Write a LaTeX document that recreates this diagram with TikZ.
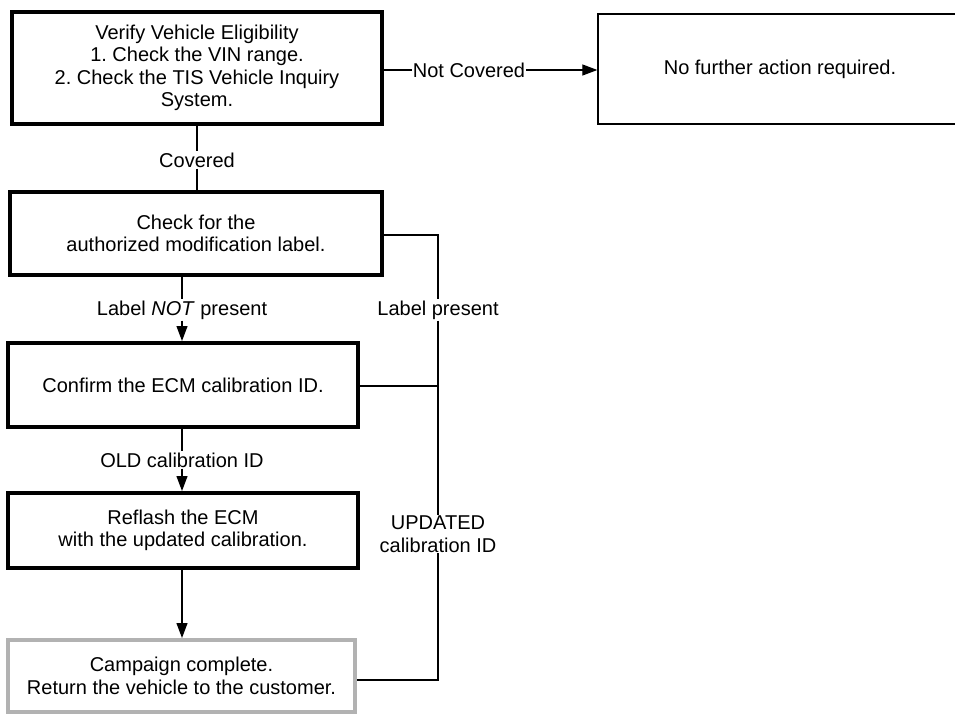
\documentclass[tikz,border=0pt]{standalone}
\usepackage{fontspec}
\setmainfont{Liberation Sans}
\usetikzlibrary{arrows.meta}
\begin{document}
\begin{tikzpicture}[x=1pt,y=-1pt,
  every node/.style={font=\fontsize{20}{22.5}\selectfont, align=center, inner sep=0pt},
  thickbox/.style={draw, line width=4pt, minimum width=#1},
  thinbox/.style={draw, line width=1.3pt},
  grbox/.style={draw=gray!60, line width=4pt},
  conn/.style={line width=1.2pt},
  arr/.style={conn, -{Triangle[length=15pt,width=11pt]}},
  lab/.style={fill=white, inner sep=1pt}]
\useasboundingbox (0,0) rectangle (955,714);
\node[thickbox=370pt, minimum height=112pt] (verify) at (197,68)
  {Verify Vehicle Eligibility\\1.\ Check the VIN range.\\2.\ Check the TIS Vehicle Inquiry\\System.};
\node[thinbox, minimum width=364pt, minimum height=110pt] (nfa) at (780,69) {No further action required.};
\node[thickbox=372pt, minimum height=83pt] (check) at (196,233.5) {Check for the\\authorized modification label.};
\node[thickbox=350pt, minimum height=84pt] (confirm) at (183,385) {Confirm the ECM calibration ID.};
\node[thickbox=350pt, minimum height=75pt] (reflash) at (183,530.5) {Reflash the ECM\\with the updated calibration.};
\node[grbox, minimum width=347pt, minimum height=72pt] (camp) at (181.5,676) {Campaign complete.\\Return the vehicle to the customer.};

\node[lab] (nc) at (469,70) {Not Covered};
\node[lab] (cov) at (197,160) {Covered};
\node[lab] (lnp) at (182,310) {Label \textit{NOT} present};
\node[lab] (old) at (182,460) {OLD calibration ID};
\node[lab] (lp) at (438,310) {Label present};
\node[lab] (upd) at (438,534) {UPDATED\\calibration ID};

\draw[conn] (verify.east |- nc) -- (nc.west);
\draw[arr] (nc.east) -- (nfa.west |- nc);
\draw[conn] (verify.south) -- (cov.north);
\draw[conn] (cov.south) -- (cov.south |- check.north);
\draw[conn] (lnp.north |- check.south) -- (lnp.north);
\draw[arr] (lnp.south) -- (lnp.south |- confirm.north);
\draw[conn] (old.north |- confirm.south) -- (old.north);
\draw[arr] (old.south) -- (old.south |- reflash.north);
\draw[arr] (old.south |- reflash.south) -- (old.south |- camp.north);
\coordinate (bt) at (438,235);
\coordinate (bb) at (438,680);
\draw[conn] (check.east |- bt) -- (bt) -- (lp.north);
\draw[conn] (lp.south) -- (upd.north);
\draw[conn] (upd.south) -- (bb) -- (camp.east |- bb);
\draw[conn] (confirm.east |- 0,386) -- (lp.south |- 0,386);
\end{tikzpicture}
\end{document}
